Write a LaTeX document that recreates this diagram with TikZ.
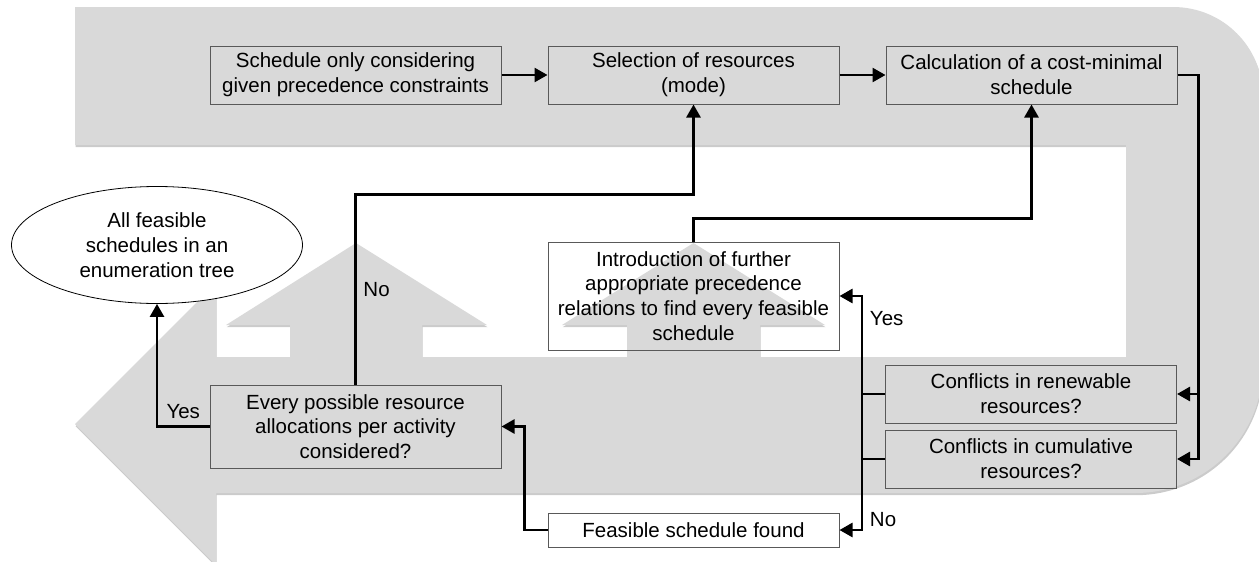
\documentclass[tikz,border=0pt]{standalone}
\usepackage{fontspec}
\setmainfont{Liberation Sans}
\usetikzlibrary{shapes.geometric,shadows,arrows.meta}
\tikzset{node distance=169pt, auto,
  box/.style={draw=black!65, line width=.5pt, minimum width=145.5pt, minimum height=29pt, align=center, inner sep=0pt},
  flow/.style={line width=1.3pt, ->, >={Triangle[length=6.5pt,width=7pt]}},
  band/.style={fill=black!15, drop shadow={shadow xshift=.3pt, shadow yshift=-1.1pt, opacity=.45, fill=black!45}}}

\begin{document}
\begin{tikzpicture}[x=.5pt, y=-.5pt, font=\fontsize{10.25}{12.4}\selectfont]
  \useasboundingbox (0,0) rectangle (1259,562);
  % grey arrows behind the flow
  \fill[band] (226,325) -- (356,243) -- (487,325) -- (422,325) -- (422,400) -- (290,400) -- (290,325) -- cycle;
  \fill[band] (562,325) -- (693.5,243) -- (825,325) -- (760,325) -- (760,400) -- (627,400) -- (627,325) -- cycle;
  \fill[band] (75,7) -- (1173,7) .. controls (1223,7) and (1263,47) .. (1263,97) -- (1263,365)
    .. controls (1263,436) and (1206,493) .. (1135,493) -- (216,493) -- (216,565) -- (75,424)
    -- (216,283) -- (216,357) -- (1126,357) -- (1126,145) -- (75,145) -- cycle;

  \node[box] (S) at (355.5,75) {Schedule only considering\\given precedence constraints};
  \node[box] (R) [right of=S] {Selection of resources\\(mode)};
  \node[box] (C) [right of=R] {Calculation of a cost-minimal\\schedule};
  \node[draw, ellipse, fill=white, line width=.4pt, minimum width=145.5pt, minimum height=58.5pt, align=center, inner sep=0pt] (T) at (157,245) {All feasible\\schedules in an\\enumeration tree};
  \node[box, minimum height=54pt] (I) at (693.5,296) {Introduction of further\\appropriate precedence\\relations to find every feasible\\schedule};
  \node[box, minimum height=41.5pt] (E) at (355.5,426.5) {Every possible resource\\allocations per activity\\considered?};
  \node[box] (N) at (1031,394) {Conflicts in renewable\\resources?};
  \node[box] (U) [below of=N, node distance=32.5pt] {Conflicts in cumulative\\resources?};
  \node[box, minimum height=17pt] (F) at (693.5,530) {Feasible schedule found};

  \draw[flow] (S) -- (R);
  \draw[flow] (R) -- (C);
  \draw[flow] (C.east) -- ++(21,0) |- (N.east);
  \draw[flow] (C.east) -- ++(21,0) |- (U.east);
  \draw[flow] (U.west) -- ++(-23,0) |- node[pos=.43, right] (y2) {Yes} (I.east);
  \draw[flow] (N.west) -- ++(-23,0) |- node[pos=.46, right] (n2) {No} (F.east);
  \draw[flow] (F.west) -- ++(-23,0) |- (E.east);
  \draw[flow] (E.north) -- node[right] (n1) {No} ++(0,-190) -| (R.south);
  \draw[flow] (E.west) -| node[pos=.25, above] (y1) {Yes} (T.south);
  \draw[flow] (I.north) -- ++(0,-23) -| (C.south);
\end{tikzpicture}
\end{document}
